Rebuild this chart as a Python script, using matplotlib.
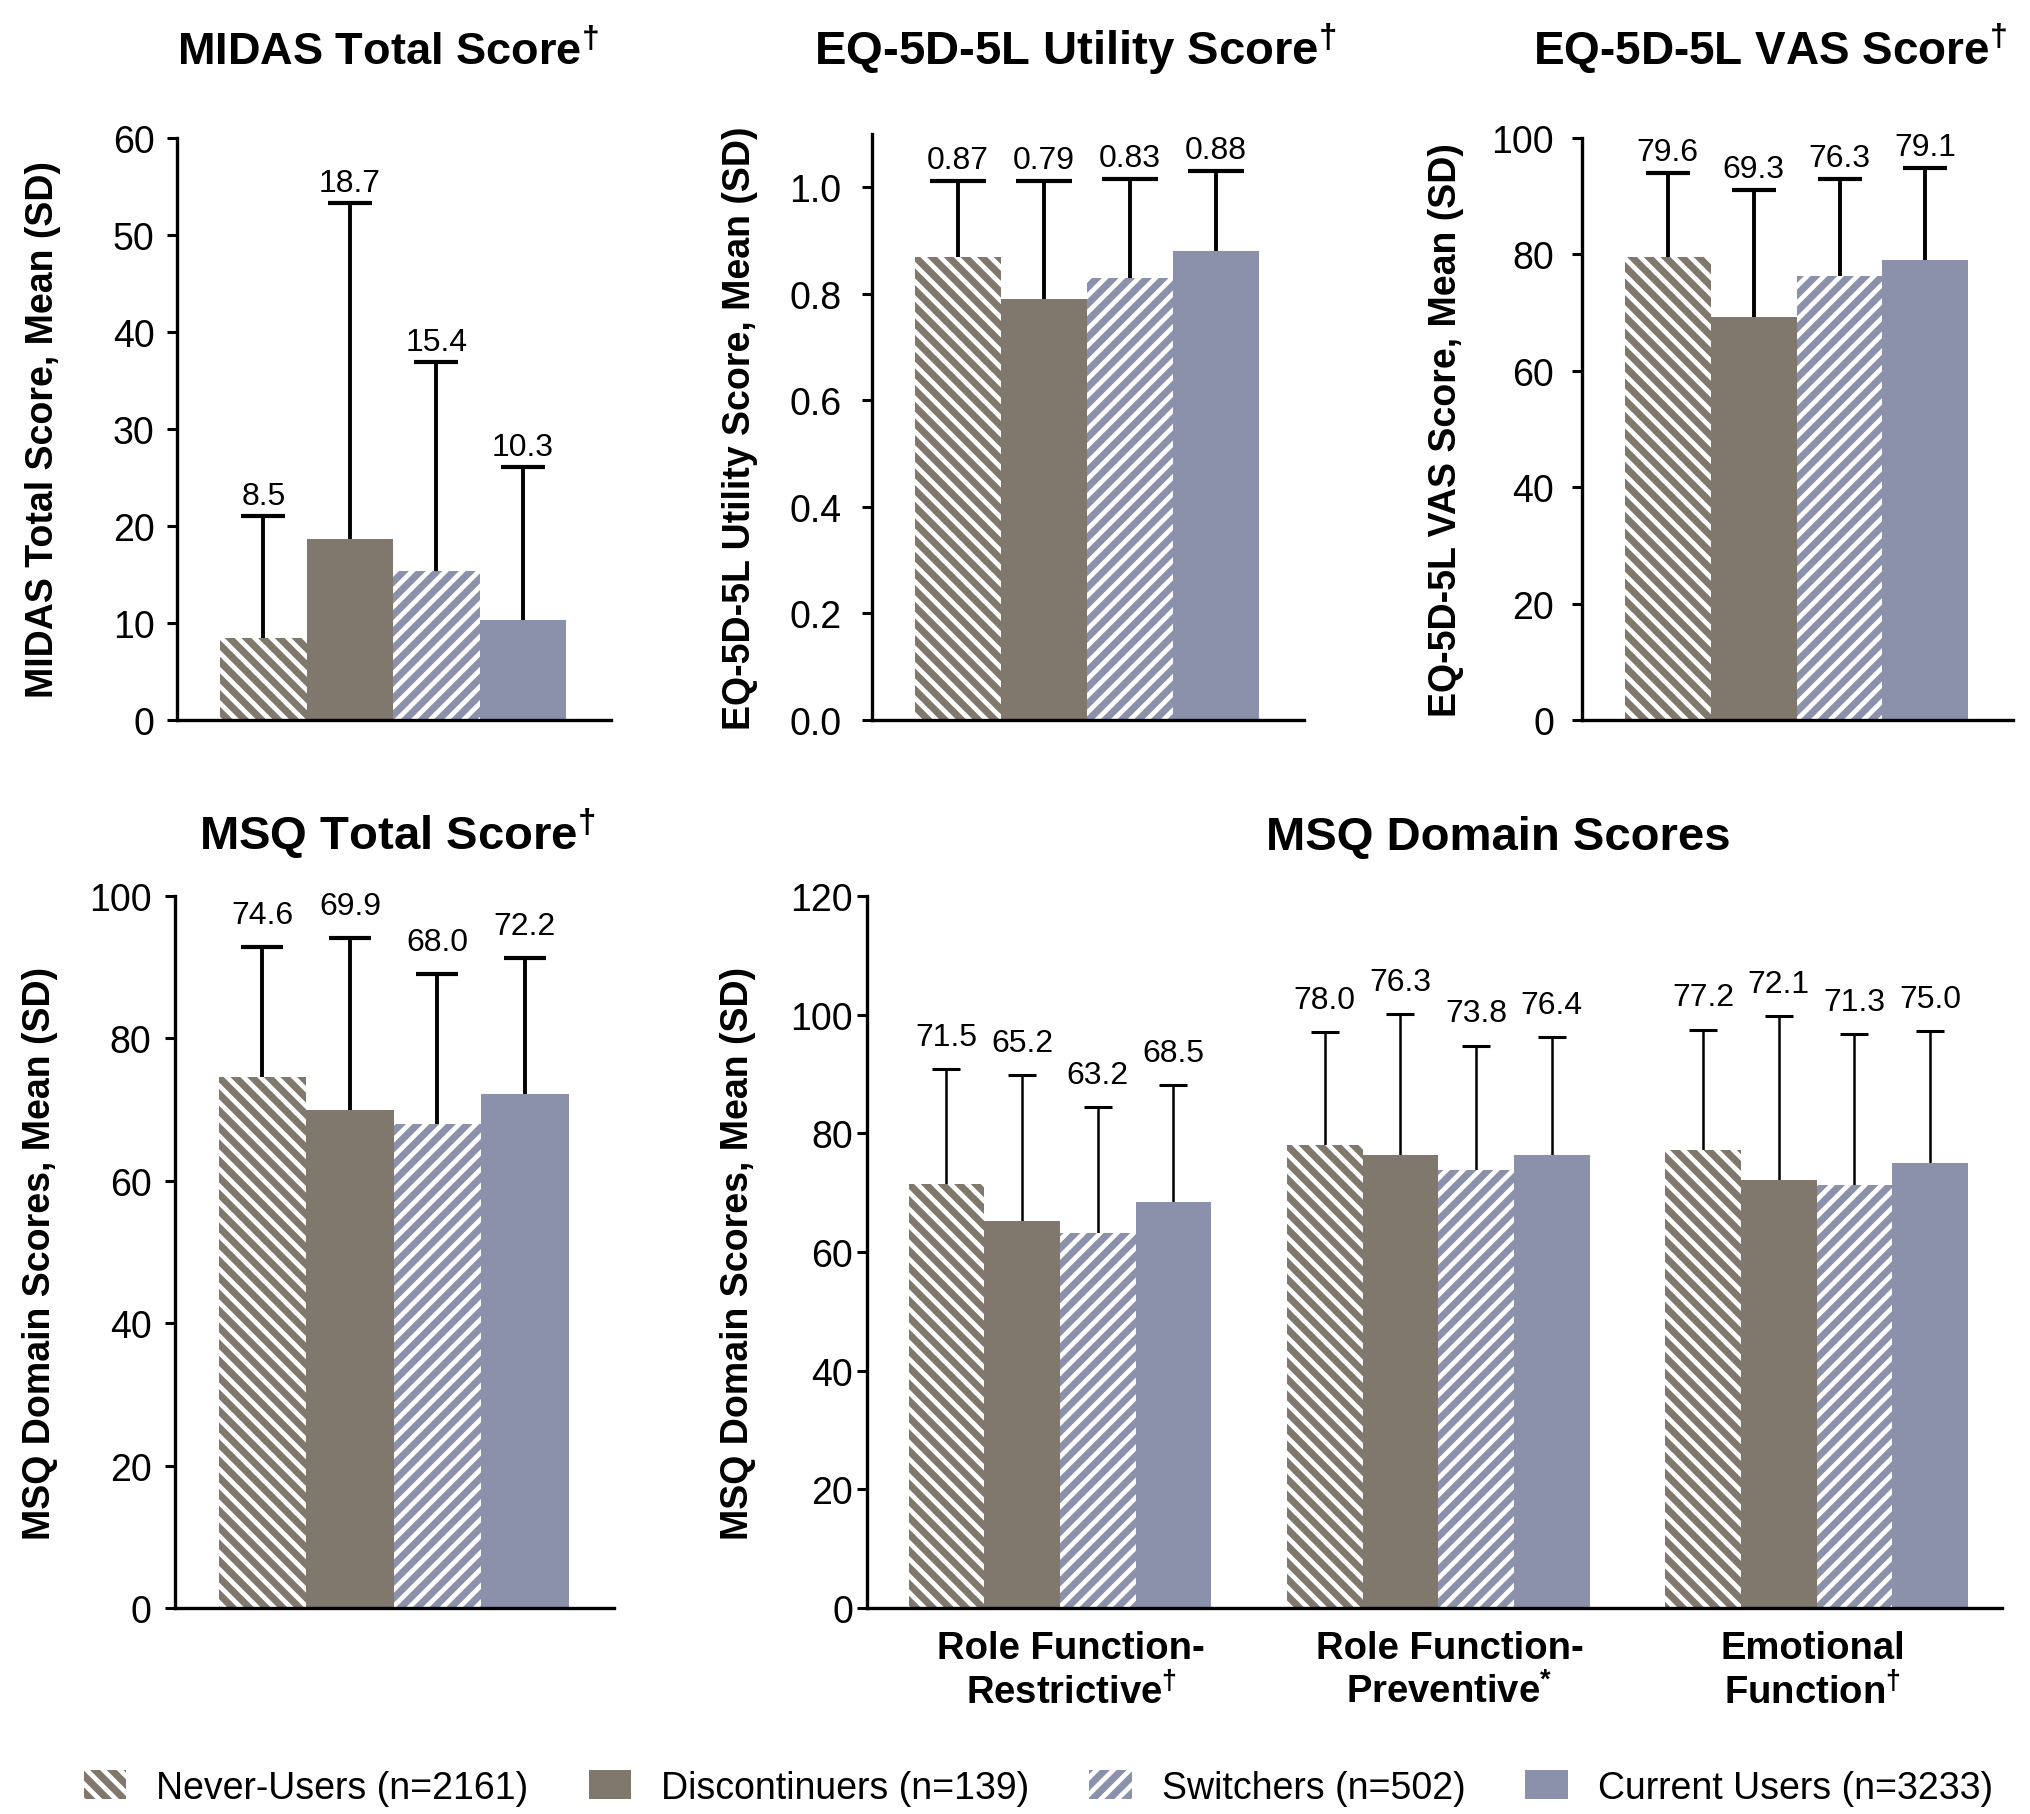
import numpy as np
import matplotlib
matplotlib.use('Agg')
import matplotlib.pyplot as plt
from matplotlib.ticker import FormatStrFormatter

plt.rcParams['font.family'] = ['Liberation Sans', 'DejaVu Sans']
plt.rcParams['mathtext.default'] = 'regular'
plt.rcParams['hatch.linewidth'] = 3.4

# cohorts (legend order)
groups = ['Never-Users (n=2161)', 'Discontinuers (n=139)',
          'Switchers (n=502)', 'Current Users (n=3233)']
colors = ['#80776d', '#80776d', '#8c91ab', '#8c91ab']
hatches = ['\\\\', '', '//', '']

# single-score panels: mean and SD per cohort
midas_mean = [8.5, 18.7, 15.4, 10.3]
midas_sd = [12.5, 34.6, 21.5, 15.8]

utility_mean = [0.87, 0.79, 0.83, 0.88]
utility_sd = [0.142, 0.221, 0.186, 0.151]

vas_mean = [79.6, 69.3, 76.3, 79.1]
vas_sd = [14.4, 21.8, 16.7, 15.7]

msq_mean = [74.6, 69.9, 68.0, 72.2]
msq_sd = [18.2, 24.2, 21.1, 19.1]

# MSQ domains, one list per cohort
domains = ['Role Function-\nRestrictive$^{\\dagger}$',
           'Role Function-\nPreventive$^{*}$',
           'Emotional\nFunction$^{\\dagger}$']
dom_never = [71.5, 78.0, 77.2]
dom_disc = [65.2, 76.3, 72.1]
dom_switch = [63.2, 73.8, 71.3]
dom_current = [68.5, 76.4, 75.0]
dom_never_sd = [19.3, 19.0, 20.3]
dom_disc_sd = [24.7, 23.8, 27.7]
dom_switch_sd = [21.3, 21.0, 25.5]
dom_current_sd = [19.7, 19.9, 22.2]

W, H = 2030, 1815
fig = plt.figure(figsize=(W / 100, H / 100), dpi=100)


def rect(l, t, r, b):
    return [l / W, 1 - b / H, (r - l) / W, (b - t) / H]


def style_axes(ax, tick_pad):
    for s in ['top', 'right']:
        ax.spines[s].set_visible(False)
    for s in ['left', 'bottom']:
        ax.spines[s].set_linewidth(2.4)
    ax.tick_params(axis='y', length=7, width=2.2, labelsize=27, pad=tick_pad)


def set_ylabel(ax, text, center_px, box):
    l, t, r, b = box
    ax.set_ylabel(text, fontsize=27, fontweight='bold', va='center')
    ax.yaxis.set_label_coords((center_px - l) / (r - l), 0.5)


def bar_panel(box, means, sds, ylim, yticks, ylabel, label_px, fmt,
              lab_off, cap, tick_pad):
    ax = fig.add_axes(rect(*box))
    x = np.arange(len(means))
    bars = ax.bar(x, means, width=1.0, color=colors, edgecolor='white',
                  linewidth=0, zorder=2)
    for b, h in zip(bars, hatches):
        b.set_hatch(h)
    ax.errorbar(x, means, yerr=sds, fmt='none', ecolor='black',
                elinewidth=2.8, capsize=cap, capthick=3.0, zorder=1)
    for xi, m, s in zip(x, means, sds):
        ax.annotate(fmt.format(m), xy=(xi, m + s), xytext=(0, lab_off),
                    textcoords='offset points', ha='center', va='baseline',
                    fontsize=23)
    ax.set_xlim(-1.0, 4.02)
    ax.set_ylim(*ylim)
    ax.set_yticks(yticks)
    ax.set_xticks([])
    style_axes(ax, tick_pad)
    set_ylabel(ax, ylabel, label_px, box)
    return ax


def title(text, cx, base, size=34):
    fig.text(cx / W, 1 - base / H, text, ha='center', va='baseline',
             fontsize=size, fontweight='bold')


box_a = (177, 139, 611, 721)
bar_panel(box_a, midas_mean, midas_sd, (0, 60), np.arange(0, 61, 10),
          'MIDAS Total Score, Mean (SD)', 43, '{:.1f}', 8.6, 15.5, 9)
title('MIDAS Total Score$^{\\dagger}$', 388, 65, 32.5)

box_b = (872, 135, 1304, 721)
ax_b = bar_panel(box_b, utility_mean, utility_sd, (0, 1.1),
                 np.arange(0, 1.01, 0.2),
                 'EQ-5D-5L Utility Score, Mean (SD)', 740, '{:.2f}', 9.4,
                 20.5, 15)
ax_b.yaxis.set_major_formatter(FormatStrFormatter('%.1f'))
title('EQ-5D-5L Utility Score$^{\\dagger}$', 1075, 65)

box_c = (1582, 139, 2013, 721)
bar_panel(box_c, vas_mean, vas_sd, (0, 100), np.arange(0, 101, 20),
          'EQ-5D-5L VAS Score, Mean (SD)', 1446, '{:.1f}', 9.4, 15.7, 13)
title('EQ-5D-5L VAS Score$^{\\dagger}$', 1770, 65, 33)

box_d = (175, 897, 614, 1609)
bar_panel(box_d, msq_mean, msq_sd, (0, 100), np.arange(0, 101, 20),
          'MSQ Domain Scores, Mean (SD)', 40, '{:.1f}', 17.3, 15.3, 10)
title('MSQ Total Score$^{\\dagger}$', 397, 850)

# grouped MSQ domain panel
box_e = (867, 897, 2002, 1609)
ax_e = fig.add_axes(rect(*box_e))
g = np.arange(len(domains))
cohort_means = [dom_never, dom_disc, dom_switch, dom_current]
cohort_sds = [dom_never_sd, dom_disc_sd, dom_switch_sd, dom_current_sd]
handles = []
for i, (m, s) in enumerate(zip(cohort_means, cohort_sds)):
    xs = g + (i - 1.5) * 0.2
    cont = ax_e.bar(xs, m, width=0.2, color=colors[i], edgecolor='white',
                    linewidth=0, hatch=hatches[i], zorder=2)
    handles.append(cont)
    ax_e.errorbar(xs, m, yerr=s, fmt='none', ecolor='black', elinewidth=1.8,
                  capsize=10.4, capthick=2.2, zorder=1)
    for xi, mi, si in zip(xs, m, s):
        ax_e.annotate('{:.1f}'.format(mi), xy=(xi, mi + si), xytext=(0, 17.3),
                      textcoords='offset points', ha='center', va='baseline',
                      fontsize=23)
ax_e.set_xlim(-0.51, 2.49)
ax_e.set_ylim(0, 120)
ax_e.set_yticks(np.arange(0, 121, 20))
ax_e.set_xticks(g + np.array([0.03, 0.03, -0.01]))
ax_e.set_xticklabels(domains, fontsize=27.5, fontweight='bold')
ax_e.tick_params(axis='x', length=0, pad=16)
style_axes(ax_e, 3)
set_ylabel(ax_e, 'MSQ Domain Scores, Mean (SD)', 738, box_e)
title('MSQ Domain Scores', 1498, 850)

fig.legend(handles=handles, labels=groups, loc='center',
           bbox_to_anchor=(0.5116, 0.0145), ncol=4, frameon=False,
           fontsize=27, handlelength=1.13, handleheight=0.8,
           handletextpad=0.8, columnspacing=1.6, borderpad=0,
           borderaxespad=0)

fig.savefig('out.png', dpi=100)
